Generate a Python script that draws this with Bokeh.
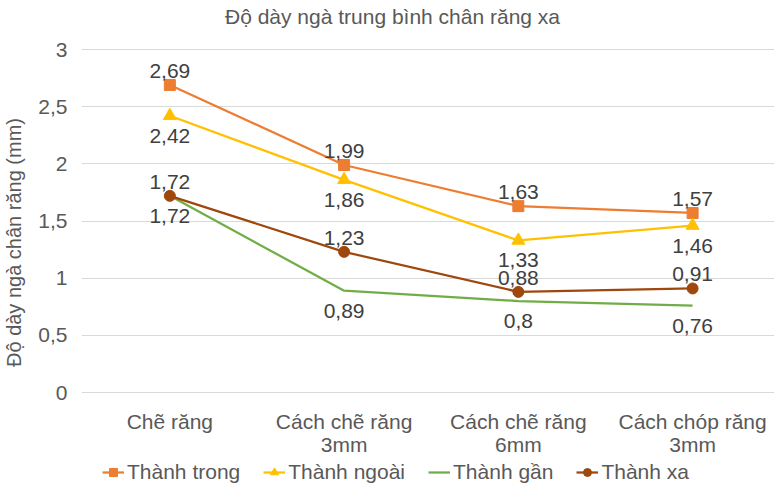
from bokeh.plotting import figure
from bokeh.models import (Range1d, FixedTicker, CustomJSTickFormatter, Legend, LegendItem,
                          ColumnDataSource, Label)
from bokeh.core.properties import value
from bokeh.embed import file_html
from bokeh.resources import INLINE

# ---- data ----
title_text = "Độ dày ngà trung bình chân răng xa"
y_label = "Độ dày ngà chân răng (mm)"
categories = ["Chẽ răng", "Cách chẽ răng\n3mm", "Cách chẽ răng\n6mm", "Cách chóp răng\n3mm"]
series_names = ["Thành trong", "Thành ngoài", "Thành gần", "Thành xa"]
thanh_trong = [2.69, 1.99, 1.63, 1.57]
thanh_ngoai = [2.42, 1.86, 1.33, 1.46]
thanh_gan = [1.72, 0.89, 0.80, 0.76]
thanh_xa = [1.72, 1.23, 0.88, 0.91]
y_ticks = [0, 0.5, 1, 1.5, 2, 2.5, 3]

FONT = "Liberation Sans"
colors = ["#ED7D31", "#FFC000", "#70AD47", "#9E480E"]
markers = ["square", "triangle", None, "circle"]
label_side = ["above", "below", "below", "above"]
values = [thanh_trong, thanh_ngoai, thanh_gan, thanh_xa]

x_idx = list(range(len(categories)))

# layout: the 0..3 axis spans 343 px; extra room above (title) and below (labels, legend)
W, H = 774, 484
TOP_PAD, AXIS_PX = 49, 343
BOTTOM_PAD = H - TOP_PAD - AXIS_PX
upp = (y_ticks[-1] - y_ticks[0]) / AXIS_PX
y_rng = Range1d(y_ticks[0] - BOTTOM_PAD * upp, y_ticks[-1] + TOP_PAD * upp)

p = figure(width=W, height=H, output_backend="svg", toolbar_location=None,
           x_range=Range1d(-0.507, 3.47), y_range=y_rng, x_axis_location=None,
           min_border_left=74, min_border_right=0, min_border_top=0, min_border_bottom=0)
p.outline_line_color = None

# y axis
p.yaxis.ticker = FixedTicker(ticks=y_ticks)
p.yaxis.bounds = (y_ticks[0], y_ticks[-1])
p.yaxis.formatter = CustomJSTickFormatter(code="return tick.toString().replace('.', ',');")
p.yaxis.axis_label = y_label
p.yaxis.axis_label_text_font = FONT
p.yaxis.axis_label_text_font_size = "20px"
p.yaxis.axis_label_text_font_style = "normal"
p.yaxis.axis_label_text_color = "#595959"
p.yaxis.axis_label_standoff = 10
p.yaxis.axis_line_color = None
p.yaxis.major_tick_line_color = None
p.yaxis.minor_tick_line_color = None
p.yaxis.major_label_standoff = 8
p.yaxis.major_label_text_font = FONT
p.yaxis.major_label_text_font_size = "21px"
p.yaxis.major_label_text_color = "#595959"

p.xgrid.grid_line_color = None
p.ygrid.ticker = FixedTicker(ticks=y_ticks)
p.ygrid.grid_line_color = "#D9D9D9"
p.ygrid.grid_line_width = 1

# title
p.add_layout(Label(x=311, y=H - 16, x_units="screen", y_units="screen",
                   text=title_text, text_align="center", text_baseline="middle",
                   text_font=FONT, text_font_size="21px", text_color="#595959"))

# category labels under the axis
cat_src = ColumnDataSource(dict(x=x_idx, y=[y_ticks[0]] * len(x_idx), t=categories))
p.text("x", "y", text="t", source=cat_src, text_align="center", text_baseline="top",
       y_offset=17, text_font=value(FONT), text_font_size="21px", text_color="#595959",
       text_line_height=1.02)

items = []
for name, vals, col, mk, side in zip(series_names, values, colors, markers, label_side):
    src = ColumnDataSource(dict(x=x_idx, y=vals,
                                lab=[f"{v:g}".replace(".", ",") for v in vals]))
    rends = [p.line("x", "y", source=src, line_color=col, line_width=2.25)]
    if mk is not None:
        rends.append(p.scatter("x", "y", source=src, marker=mk,
                               size=13 if mk == "triangle" else 11,
                               fill_color=col, line_color=col))
    p.text("x", "y", text="lab", source=src, text_align="center", text_baseline="middle",
           y_offset=-14 if side == "above" else 20, text_font=value(FONT),
           text_font_size="21px", text_color="#404040")
    items.append(LegendItem(label=name, renderers=rends))

legend = Legend(items=items, orientation="horizontal", location=(21, 0),
                spacing=23, padding=0, margin=0, label_standoff=3,
                glyph_width=22, glyph_height=20,
                label_text_font=FONT, label_text_font_size="21px", label_text_color="#595959",
                border_line_color=None, background_fill_alpha=0)
p.add_layout(legend, "center")

open("out.html", "w").write(file_html(p, INLINE))
